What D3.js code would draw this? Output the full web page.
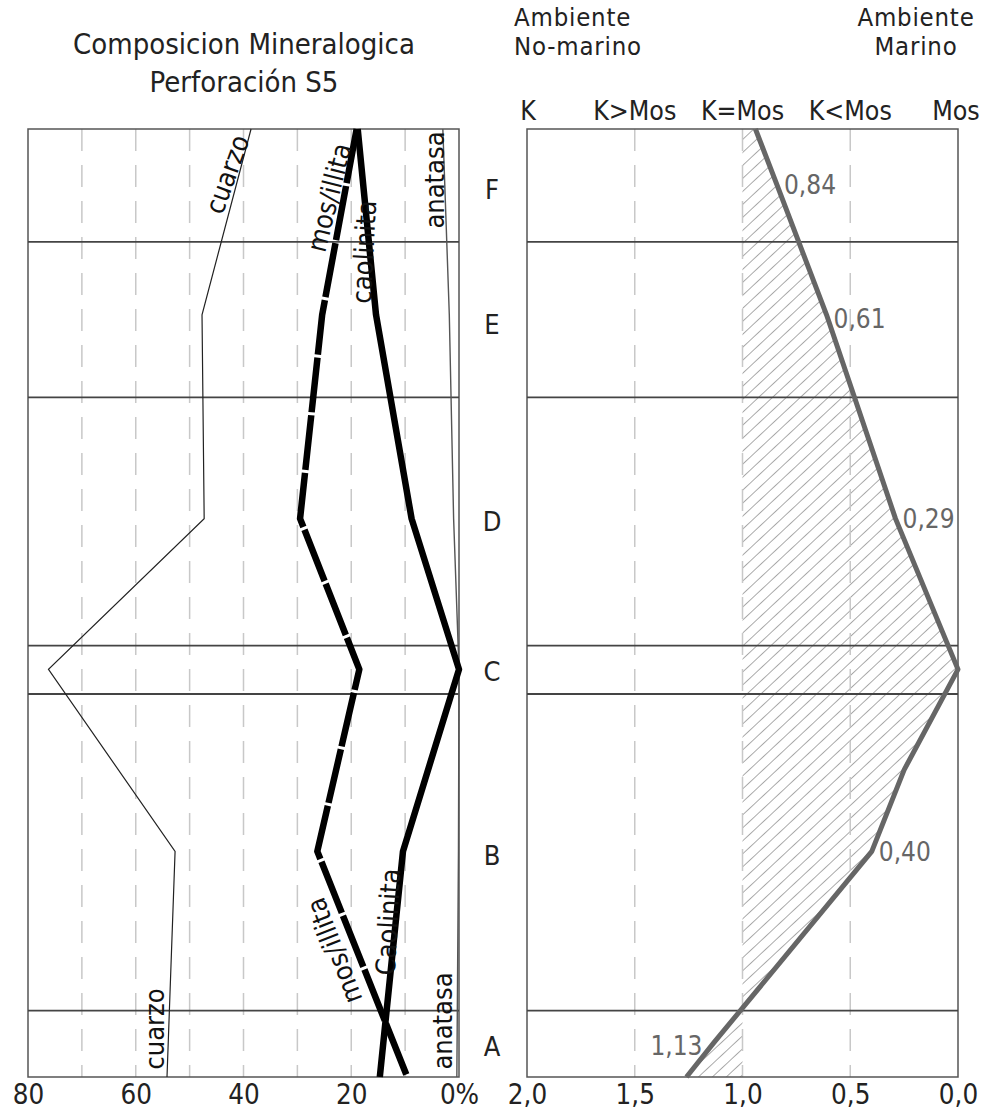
<!DOCTYPE html>
<html><head><meta charset="utf-8">
<script src="https://cdn.jsdelivr.net/npm/d3@7"></script>
<style>
body{margin:0;background:#fff;}
text{font-family:"DejaVu Sans Condensed","DejaVu Sans",sans-serif;}
</style></head>
<body>
<svg id="c" width="988" height="1112"></svg>
<script>
// ---- data ----
const layers = ["F","E","D","C","B","A"];
const layerDepth = [6.4, 20.6, 41.4, 57.2, 76.6, 96.8];
const boundaries = [11.9, 28.3, 54.5, 59.6, 93.0];
// sample depths (relative, 0 = top of column, 100 = bottom)
const sampleDepth = [0, 19.6, 41.1, 57.0, 76.2, 100];
const cuarzo   = [38.6, 47.7, 47.3, 76.2, 52.7, 54.2];
const mosIllita = [19.0, 25.4, 29.5, 18.5, 26.3, 9.6];
const caolinita = [18.8, 15.4, 8.8, 0.0, 10.4, 14.7];
const anatasa  = [3.0, 1.8, 1.0, 0.0, 0.1, 0.4];
// K/Mos ratio
const ratioDepth = [0, 5.9, 19.6, 41.1, 57.0, 67.6, 76.2, 96.3, 100];
const ratioValue = [0.94, 0.84, 0.61, 0.29, 0.0, 0.25, 0.40, 1.13, 1.26];
const ratioLabeled = [1, 2, 3, 6, 7];
const leftTicks = [80, 60, 40, 20, 0];
const leftGrid = [70, 60, 50, 40, 30, 20, 10];
const rightTicks = [2.0, 1.5, 1.0, 0.5, 0.0];
const rightGrid = [1.5, 1.0, 0.5];
const ratioCats = ["K","K>Mos","K=Mos","K<Mos","Mos"];

const svg = d3.select("#c");
const y = d3.scaleLinear().domain([0,100]).range([129,1077]);
const xL = d3.scaleLinear().domain([80,0]).range([28,459]);
const xR = d3.scaleLinear().domain([2,0]).range([527,958]);

// hatch pattern
const defs = svg.append("defs");
const pat = defs.append("pattern").attr("id","hatch").attr("patternUnits","userSpaceOnUse")
  .attr("width",9.5).attr("height",9.5).attr("patternTransform","rotate(47)");
pat.append("line").attr("x1",0).attr("y1",0).attr("x2",0).attr("y2",9.5)
  .attr("stroke","#666").attr("stroke-width",1.1);

// titles
const T = svg.append("g").attr("fill","#222");
T.append("text").attr("x",244).attr("y",54).attr("text-anchor","middle").attr("font-size",29).text("Composicion Mineralogica");
T.append("text").attr("x",244).attr("y",92).attr("text-anchor","middle").attr("font-size",29).text("Perforación S5");
const amb = (t,x,yy,anchor)=>T.append("text").attr("x",x).attr("y",yy).attr("text-anchor",anchor)
  .attr("font-size",25.5).attr("letter-spacing","0.8px").text(t);
amb("Ambiente",514,26,"start");
amb("No-marino",514,55,"start");
amb("Ambiente",916,26,"middle");
amb("Marino",916,55,"middle");
ratioCats.forEach((c,i)=>{
  T.append("text").attr("x",xR(rightTicks[i]) + (i===4?-2:(i===0?1:0))).attr("y",120)
   .attr("text-anchor","middle").attr("font-size",26.5).text(c);
});

// ---- left panel ----
const L = svg.append("g");
L.selectAll("line.g").data(leftGrid).join("line")
  .attr("x1",d=>xL(d)).attr("x2",d=>xL(d)).attr("y1",y(0)).attr("y2",y(100))
  .attr("stroke","#c8c8c8").attr("stroke-width",1.5).attr("stroke-dasharray","22,14");
L.append("rect").attr("x",xL(80)).attr("y",y(0)).attr("width",xL(0)-xL(80)).attr("height",y(100)-y(0))
  .attr("fill","none").attr("stroke","#555").attr("stroke-width",1.5);
L.selectAll("line.b").data(boundaries).join("line")
  .attr("x1",xL(80)).attr("x2",xL(0)).attr("y1",d=>y(d)).attr("y2",d=>y(d))
  .attr("stroke","#444").attr("stroke-width",1.8);

const lineL = vals => d3.line().x((d,i)=>xL(vals[i])).y(d=>y(d))(sampleDepth);
L.append("path").attr("d",lineL(cuarzo)).attr("fill","none").attr("stroke","#222").attr("stroke-width",1.2);
L.append("path").attr("d",lineL(anatasa)).attr("fill","none").attr("stroke","#555").attr("stroke-width",1.4);
L.append("path").attr("d",lineL(caolinita)).attr("fill","none").attr("stroke","#000").attr("stroke-width",6.5).attr("stroke-linejoin","round");
L.append("path").attr("d",lineL(mosIllita)).attr("fill","none").attr("stroke","#000").attr("stroke-width",6.5)
  .attr("stroke-dasharray","55,3").attr("stroke-linejoin","round");

const lbl = (t,x,yy,a)=> L.append("text").attr("transform",`translate(${x},${yy}) rotate(${a})`)
  .attr("text-anchor","middle").attr("dominant-baseline","middle").attr("font-size",27).attr("fill","#111").text(t);
lbl("cuarzo",229,175,-70);
lbl("mos/illita",331,198,-76);
lbl("caolinita",366,252,-87);
lbl("anatasa",436,180,-90);
lbl("cuarzo",156,1029,-90);
lbl("mos/illita",336,950,-111);
lbl("Caolinita",390,922,-87);
lbl("anatasa",444,1021,-90);

// layer letters
svg.append("g").selectAll("text").data(layers).join("text")
  .attr("x",492).attr("y",(d,i)=>y(layerDepth[i])).attr("dy","0.36em").attr("text-anchor","middle")
  .attr("font-size",27).attr("fill","#222").text(d=>d);

// ---- right panel ----
const R = svg.append("g");
const pts = ratioDepth.map((d,i)=>({d, v:ratioValue[i]}));
R.append("path").datum(pts).attr("d", d3.area().y(p=>y(p.d)).x0(xR(1)).x1(p=>xR(p.v)))
  .attr("fill","url(#hatch)");
R.selectAll("line.g").data(rightGrid).join("line")
  .attr("x1",d=>xR(d)).attr("x2",d=>xR(d)).attr("y1",y(0)).attr("y2",y(100))
  .attr("stroke","#c8c8c8").attr("stroke-width",1.5).attr("stroke-dasharray","22,14");
R.append("rect").attr("x",xR(2)).attr("y",y(0)).attr("width",xR(0)-xR(2)).attr("height",y(100)-y(0))
  .attr("fill","none").attr("stroke","#555").attr("stroke-width",1.5);
R.selectAll("line.b").data(boundaries).join("line")
  .attr("x1",xR(2)).attr("x2",xR(0)).attr("y1",d=>y(d)).attr("y2",d=>y(d))
  .attr("stroke","#444").attr("stroke-width",1.8);
R.append("path").datum(pts).attr("d", d3.line().y(p=>y(p.d)).x(p=>xR(p.v)))
  .attr("fill","none").attr("stroke","#666").attr("stroke-width",5).attr("stroke-linejoin","round");
const fmt = v => v.toFixed(2).replace(".",",");
ratioLabeled.forEach(i=>{
  const p = pts[i];
  const left = p.v > 1;
  R.append("text").attr("x", xR(p.v) + (left?-12:7)).attr("y", y(p.d) + (left?4:(i===2?4:0))).attr("dy","0.36em")
   .attr("text-anchor", left?"end":"start").attr("font-size",26).attr("fill","#666").text(fmt(p.v));
});

// ---- axes ----
const axL = d3.axisBottom(xL).tickValues(leftTicks).tickSize(0).tickPadding(7).tickFormat(d=>d===0?"0%":d);
const gL = svg.append("g").attr("transform",`translate(0,${y(100)})`).call(axL);
const axR = d3.axisBottom(xR).tickValues(rightTicks).tickSize(0).tickPadding(7).tickFormat(d=>d.toFixed(1).replace(".",","));
const gR = svg.append("g").attr("transform",`translate(0,${y(100)})`).call(axR);
[gL,gR].forEach(g=>{
  g.select(".domain").remove();
  g.selectAll("text").attr("font-size",27.5).attr("fill","#222")
   .attr("font-family",'"DejaVu Sans Condensed","DejaVu Sans",sans-serif');
});
</script>
</body></html>
